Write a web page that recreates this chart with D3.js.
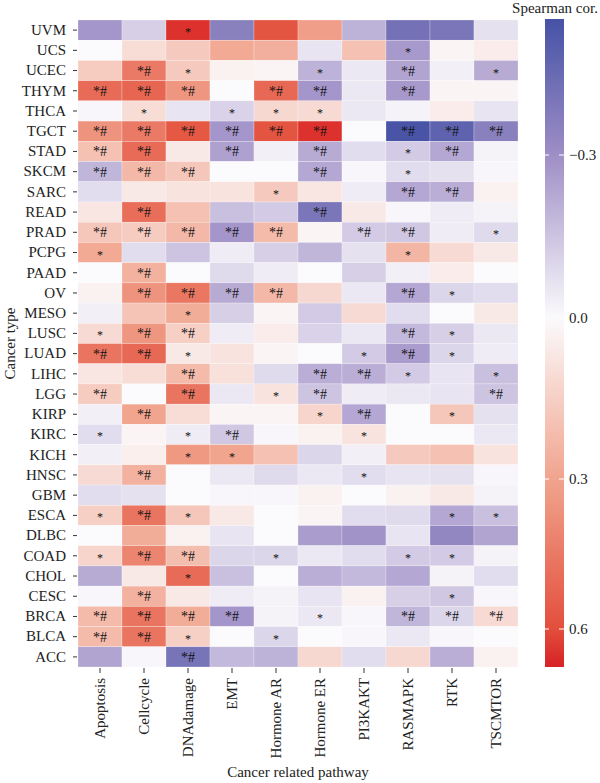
<!DOCTYPE html>
<html>
<head>
<meta charset="utf-8">
<script src="https://cdn.jsdelivr.net/npm/d3@7"></script>
<style>
  body { margin: 0; background: #fff; }
  text { font-family: "Liberation Serif", "DejaVu Serif", serif; fill: #222; }
</style>
</head>
<body>
<svg id="chart" width="600" height="783"></svg>
<script>
// cancer types, top to bottom
var cancers = ["UVM","UCS","UCEC","THYM","THCA","TGCT","STAD","SKCM","SARC","READ","PRAD","PCPG","PAAD","OV","MESO","LUSC","LUAD","LIHC","LGG","KIRP","KIRC","KICH","HNSC","GBM","ESCA","DLBC","COAD","CHOL","CESC","BRCA","BLCA","ACC"];

var pathways = ["Apoptosis","Cellcycle","DNAdamage","EMT","Hormone AR","Hormone ER","PI3KAKT","RASMAPK","RTK","TSCMTOR"];

// spearman correlation, one row per cancer type (same order as pathways)
var corr = [
  [-0.28,-0.12, 0.65,-0.36, 0.58, 0.32,-0.20,-0.42,-0.40,-0.07],
  [ 0.00, 0.10, 0.17, 0.28, 0.26,-0.06, 0.20,-0.27, 0.02, 0.05],
  [ 0.16, 0.45, 0.17, 0.03, 0.02,-0.20,-0.05,-0.24,-0.03,-0.22],
  [ 0.50, 0.52, 0.35, 0.00, 0.51,-0.28,-0.05,-0.27, 0.02, 0.02],
  [-0.01, 0.10,-0.06,-0.11, 0.12, 0.11,-0.05,-0.02, 0.05,-0.06],
  [ 0.36, 0.45, 0.57,-0.28, 0.58, 0.65, 0.00,-0.54,-0.48,-0.36],
  [ 0.20, 0.50, 0.06,-0.25,-0.03,-0.22,-0.08,-0.13,-0.23,-0.02],
  [-0.19, 0.23, 0.18, 0.00, 0.00,-0.23,-0.01,-0.08,-0.07,-0.01],
  [-0.08, 0.06, 0.08, 0.08, 0.17, 0.07,-0.04,-0.23,-0.21, 0.03],
  [ 0.07, 0.49, 0.20,-0.16,-0.13,-0.40, 0.06,-0.01,-0.04,-0.02],
  [ 0.18, 0.16, 0.23,-0.28, 0.22, 0.02,-0.13,-0.14,-0.04,-0.09],
  [ 0.28,-0.08,-0.15,-0.04,-0.12,-0.19,-0.07, 0.24, 0.11, 0.06],
  [ 0.00, 0.25, 0.00,-0.09,-0.04, 0.00,-0.12,-0.03, 0.05, 0.00],
  [ 0.03, 0.36, 0.46,-0.22, 0.23, 0.12,-0.05,-0.23,-0.10,-0.08],
  [-0.03, 0.19, 0.27,-0.12, 0.02,-0.13, 0.11,-0.08, 0.00, 0.06],
  [ 0.11, 0.35, 0.15,-0.04, 0.05,-0.11,-0.05,-0.18,-0.12,-0.05],
  [ 0.47, 0.51, 0.06, 0.08, 0.02, 0.00,-0.13,-0.26,-0.10,-0.04],
  [ 0.07, 0.10, 0.22, 0.09,-0.09,-0.21,-0.21,-0.13,-0.06,-0.16],
  [ 0.16, 0.00, 0.47,-0.05, 0.08,-0.15,-0.04,-0.05,-0.06,-0.15],
  [-0.03, 0.30, 0.10, 0.02, 0.02, 0.13,-0.23, 0.00, 0.18,-0.07],
  [-0.08, 0.02,-0.04,-0.14,-0.01, 0.03, 0.08, 0.00, 0.00,-0.05],
  [-0.03, 0.04, 0.34, 0.30, 0.20,-0.10,-0.03, 0.17, 0.20, 0.08],
  [ 0.11, 0.25, 0.00,-0.05,-0.09,-0.05,-0.08,-0.06,-0.07,-0.01],
  [-0.08,-0.07, 0.00,-0.01,-0.01, 0.03, 0.00, 0.03, 0.06,-0.02],
  [ 0.15, 0.47, 0.18, 0.06, 0.00, 0.02,-0.08,-0.09,-0.23,-0.16],
  [ 0.00, 0.27, 0.03,-0.06, 0.00,-0.26,-0.29,-0.06,-0.33,-0.24],
  [ 0.13, 0.41, 0.21,-0.10,-0.10,-0.05,-0.08,-0.13,-0.13,-0.02],
  [-0.22, 0.06, 0.50,-0.16, 0.00,-0.21,-0.18,-0.23,-0.02,-0.08],
  [-0.01, 0.25, 0.06,-0.04,-0.02,-0.06, 0.03,-0.12,-0.14,-0.01],
  [ 0.22, 0.47, 0.27,-0.28,-0.02,-0.05,-0.01,-0.19,-0.10, 0.11],
  [ 0.22, 0.47, 0.15, 0.00,-0.10, 0.00,-0.01,-0.05,-0.01, 0.00],
  [-0.24,-0.01,-0.41,-0.18,-0.20, 0.12,-0.08, 0.12,-0.21, 0.03]
];

// significance marks ("" = none)
var marks = [
  ["","","*","","","","","","",""],
  ["","","","","","","","*","",""],
  ["","*#","*","","","*","","*#","","*"],
  ["*#","*#","*#","","*#","*#","","*#","",""],
  ["","*","","*","*","*","","","",""],
  ["*#","*#","*#","*#","*#","*#","","*#","*#","*#"],
  ["*#","*#","","*#","","*#","","*","*#",""],
  ["*#","*#","*#","","","*#","","*","",""],
  ["","","","","*","","","*#","*#",""],
  ["","*#","","","","*#","","","",""],
  ["*#","*#","*#","*#","*#","","*#","*#","","*"],
  ["*","","","","","","","*","",""],
  ["","*#","","","","","","","",""],
  ["","*#","*#","*#","*#","","","*#","*",""],
  ["","","*","","","","","","",""],
  ["*","*#","*#","","","","","*#","*",""],
  ["*#","*#","*","","","","*","*#","*",""],
  ["","","*#","","","*#","*#","*","","*"],
  ["*#","","*#","","*","*#","","","","*#"],
  ["","*#","","","","*","*#","","*",""],
  ["*","","*","*#","","","*","","",""],
  ["","","*","*","","","","","",""],
  ["","*#","","","","","*","","",""],
  ["","","","","","","","","",""],
  ["*","*#","*","","","","","","*","*"],
  ["","","","","","","","","",""],
  ["*","*#","*#","","*","","","*","*",""],
  ["","","*","","","","","","",""],
  ["","*#","","","","","","","*",""],
  ["*#","*#","*#","*#","","*","","*#","*#","*#"],
  ["*#","*#","*","","*","","","","",""],
  ["","","*#","","","","","","",""]
];

var cbarTicks = [-0.3, 0.0, 0.3, 0.6];

var svg = d3.select("#chart");

var plotL = 78, plotT = 20, plotR = 518, plotB = 667;

var x = d3.scaleBand().domain(pathways).range([plotL, plotR]);
var y = d3.scaleBand().domain(cancers).range([plotT, plotB]);

var color = d3.scaleLinear()
    .domain([-0.55, -0.3, 0, 0.3, 0.6, 0.68])
    .range(["#4652a6", "#9e8ec6", "#fbfafc", "#f1a48e", "#e34f3c", "#d71f24"])
    .clamp(true);

// flatten into cells
var cells = [];
cancers.forEach(function(c, i) {
  pathways.forEach(function(p, j) {
    cells.push({ cancer: c, pathway: p, value: corr[i][j], mark: marks[i][j] });
  });
});

var g = svg.append("g");

g.selectAll("rect.cell")
  .data(cells)
  .enter().append("rect")
  .attr("class", "cell")
  .attr("x", function(d) { return x(d.pathway); })
  .attr("y", function(d) { return y(d.cancer); })
  .attr("width", x.bandwidth())
  .attr("height", y.bandwidth())
  .attr("fill", function(d) { return color(d.value); })
  .attr("stroke", "#ffffff")
  .attr("stroke-opacity", 0.5)
  .attr("stroke-width", 0.5);

g.selectAll("text.mark")
  .data(cells.filter(function(d) { return d.mark; }))
  .enter().append("text")
  .attr("class", "mark")
  .attr("x", function(d) { return x(d.pathway) + x.bandwidth() / 2; })
  .attr("y", function(d) { return y(d.cancer) + y.bandwidth() / 2; })
  .attr("dy", function(d) { return d.mark == "*" ? "0.5em" : "0.36em"; })
  .attr("text-anchor", "middle")
  .style("font-size", function(d) { return d.mark == "*" ? "12px" : "14px"; })
  .style("fill", "#111")
  .text(function(d) { return d.mark; });

// axes
var yAxis = svg.append("g")
  .attr("transform", "translate(" + (plotL - 1) + ",0)")
  .call(d3.axisLeft(y).tickSize(4).tickPadding(7));
yAxis.select(".domain").remove();
yAxis.selectAll("line").attr("stroke", "#333");
yAxis.selectAll("text").style("font-size", "15px").style("font-family", "Liberation Serif");

var xAxis = svg.append("g")
  .attr("transform", "translate(0," + (plotB + 1) + ")")
  .call(d3.axisBottom(x).tickSize(5));
xAxis.select(".domain").remove();
xAxis.selectAll("line").attr("stroke", "#333");
xAxis.selectAll("text")
  .style("font-size", "15px")
  .style("font-family", "Liberation Serif")
  .attr("transform", "rotate(-90)")
  .attr("x", -10)
  .attr("y", 0)
  .attr("dy", "0.35em")
  .style("text-anchor", "end");

svg.append("text")
  .attr("x", (plotL + plotR) / 2)
  .attr("y", 777)
  .attr("text-anchor", "middle")
  .style("font-size", "15px")
  .text("Cancer related pathway");

svg.append("text")
  .attr("transform", "translate(15," + ((plotT + plotB) / 2) + ") rotate(-90)")
  .attr("text-anchor", "middle")
  .style("font-size", "15px")
  .text("Cancer type");

// colour bar
var cbX = 545, cbW = 19, cbTop = 19, cbBottom = 667;
var cbScale = d3.scaleLinear()
    .domain([-0.3, 0, 0.3, 0.6])
    .range([155, 318, 479, 629]);

var defs = svg.append("defs");
var grad = defs.append("linearGradient")
  .attr("id", "cbar")
  .attr("x1", 0).attr("y1", 0).attr("x2", 0).attr("y2", 1);
d3.range(0, 1.0001, 0.02).forEach(function(t) {
  var py = cbTop + t * (cbBottom - cbTop);
  grad.append("stop")
    .attr("offset", t)
    .attr("stop-color", color(cbScale.invert(py)));
});

svg.append("rect")
  .attr("x", cbX)
  .attr("y", cbTop)
  .attr("width", cbW)
  .attr("height", cbBottom - cbTop)
  .attr("fill", "url(#cbar)");

var cbt = svg.append("g").selectAll("g")
  .data(cbarTicks)
  .enter().append("g")
  .attr("transform", function(d) { return "translate(0," + cbScale(d) + ")"; });
cbt.append("line")
  .attr("x1", cbX).attr("x2", cbX + 4)
  .attr("stroke", "#fff").attr("stroke-width", 1);
cbt.append("line")
  .attr("x1", cbX + cbW - 5).attr("x2", cbX + cbW)
  .attr("stroke", "#fff").attr("stroke-width", 1);
cbt.append("text")
  .attr("x", cbX + cbW + 5)
  .attr("dy", "0.35em")
  .style("font-size", "15px")
  .text(function(d) { return d == 0 ? "0.0" : d3.format(".1f")(d).replace("-", "\u2212"); });

svg.append("text")
  .attr("x", 555)
  .attr("y", 13)
  .attr("text-anchor", "middle")
  .style("font-size", "15px")
  .text("Spearman cor.");
</script>
</body>
</html>
